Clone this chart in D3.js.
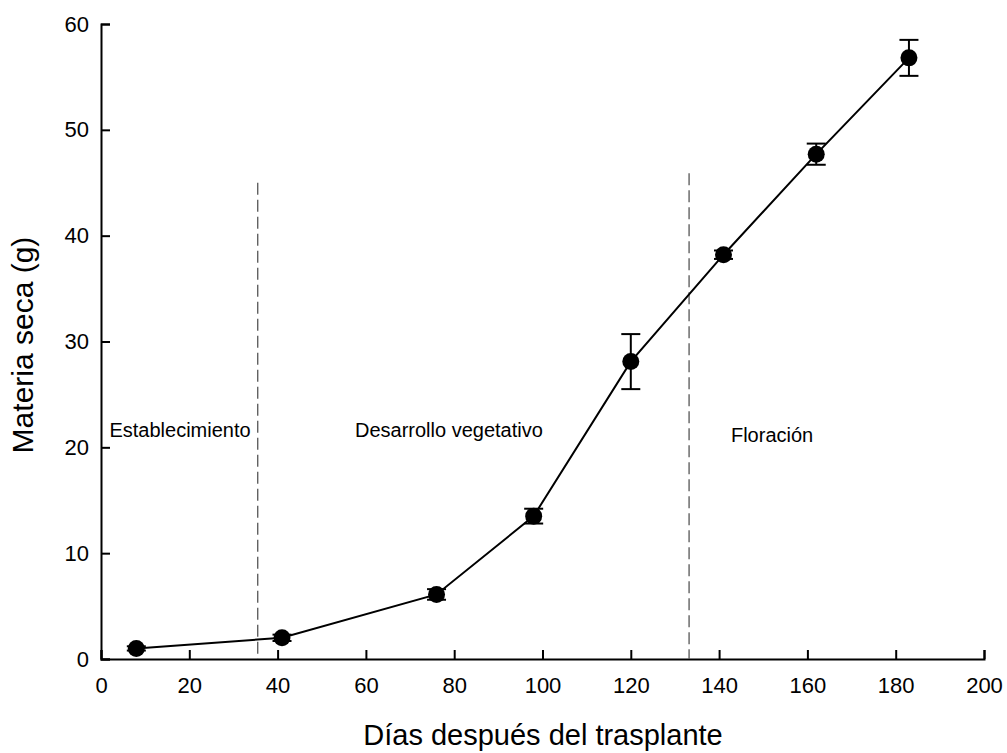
<!DOCTYPE html>
<html><head><meta charset="utf-8">
<script src="https://cdn.jsdelivr.net/npm/d3@7"></script>
<style>body{margin:0;background:#fff}svg{display:block}text{font-family:"Liberation Sans",Arial,sans-serif}</style>
</head><body><svg id="c" width="1007" height="753"></svg>
<script>
const days = [8, 41, 76, 98, 120, 141, 162, 183];
const drymass = [1.0, 2.0, 6.1, 13.5, 28.1, 38.2, 47.7, 56.8];
const errors = [0.2, 0.3, 0.5, 0.7, 2.6, 0.4, 1.0, 1.7];
const xTicks = [0, 20, 40, 60, 80, 100, 120, 140, 160, 180, 200];
const yTicks = [0, 10, 20, 30, 40, 50, 60];
const phaseLines = [{x: 35.5, top: 45}, {x: 133.2, top: 45.9}];
const phaseLabels = [{text: "Establecimiento", x: 17.9, y: 21.0}, {text: "Desarrollo vegetativo", x: 78.8, y: 21.0}, {text: "Floración", x: 152, y: 20.5}];

const svg = d3.select("#c");
const x = d3.scaleLinear().domain([0, 200]).range([101, 984]);
const y = d3.scaleLinear().domain([0, 60]).range([659, 24]);

const xAxis = svg.append("g").attr("transform", "translate(0,659)")
  .call(d3.axisBottom(x).tickValues(xTicks).tickSizeInner(-9).tickSizeOuter(-9).tickPadding(18));
const yAxis = svg.append("g").attr("transform", "translate(101,0)")
  .call(d3.axisLeft(y).tickValues(yTicks).tickSizeInner(-9).tickSizeOuter(-9).tickPadding(12));
[xAxis, yAxis].forEach(a => {
  a.attr("font-size", 22).attr("font-family", "Liberation Sans, Arial, sans-serif");
  a.selectAll("path").attr("stroke", "#000").attr("stroke-width", 2);
  a.selectAll("line").attr("stroke", "#000").attr("stroke-width", 2);
  a.selectAll("text").attr("fill", "#000");
});

phaseLines.forEach(p => {
  svg.append("line").attr("x1", x(p.x)).attr("x2", x(p.x)).attr("y1", y(p.top)).attr("y2", y(0))
    .attr("stroke", "#555").attr("stroke-width", 1.3).attr("stroke-dasharray", "12,5");
});
phaseLabels.forEach(p => {
  svg.append("text").attr("x", x(p.x)).attr("y", y(p.y)).attr("text-anchor", "middle")
    .attr("font-size", 20).attr("fill", "#000").text(p.text);
});

const data = days.map((d, i) => ({d, v: drymass[i], e: errors[i]}));
svg.append("path").datum(data)
  .attr("d", d3.line().x(p => x(p.d)).y(p => y(p.v)))
  .attr("fill", "none").attr("stroke", "#000").attr("stroke-width", 2);

const eb = svg.append("g");
data.forEach(p => {
  eb.append("line").attr("x1", x(p.d)).attr("x2", x(p.d)).attr("y1", y(p.v + p.e)).attr("y2", y(p.v - p.e)).attr("stroke", "#000").attr("stroke-width", 2);
  [p.v + p.e, p.v - p.e].forEach(vv => eb.append("line").attr("x1", x(p.d) - 9.5).attr("x2", x(p.d) + 9.5).attr("y1", y(vv)).attr("y2", y(vv)).attr("stroke", "#000").attr("stroke-width", 2));
});
svg.append("g").selectAll("circle").data(data).join("circle")
  .attr("cx", p => x(p.d)).attr("cy", p => y(p.v)).attr("r", 8.5).attr("fill", "#000");

svg.append("text").attr("x", 543).attr("y", 745).attr("text-anchor", "middle").attr("font-size", 29).attr("fill", "#000").text("Días después del trasplante");
svg.append("text").attr("transform", "translate(33,345) rotate(-90)").attr("text-anchor", "middle").attr("font-size", 30).attr("fill", "#000").text("Materia seca (g)");
</script></body></html>
